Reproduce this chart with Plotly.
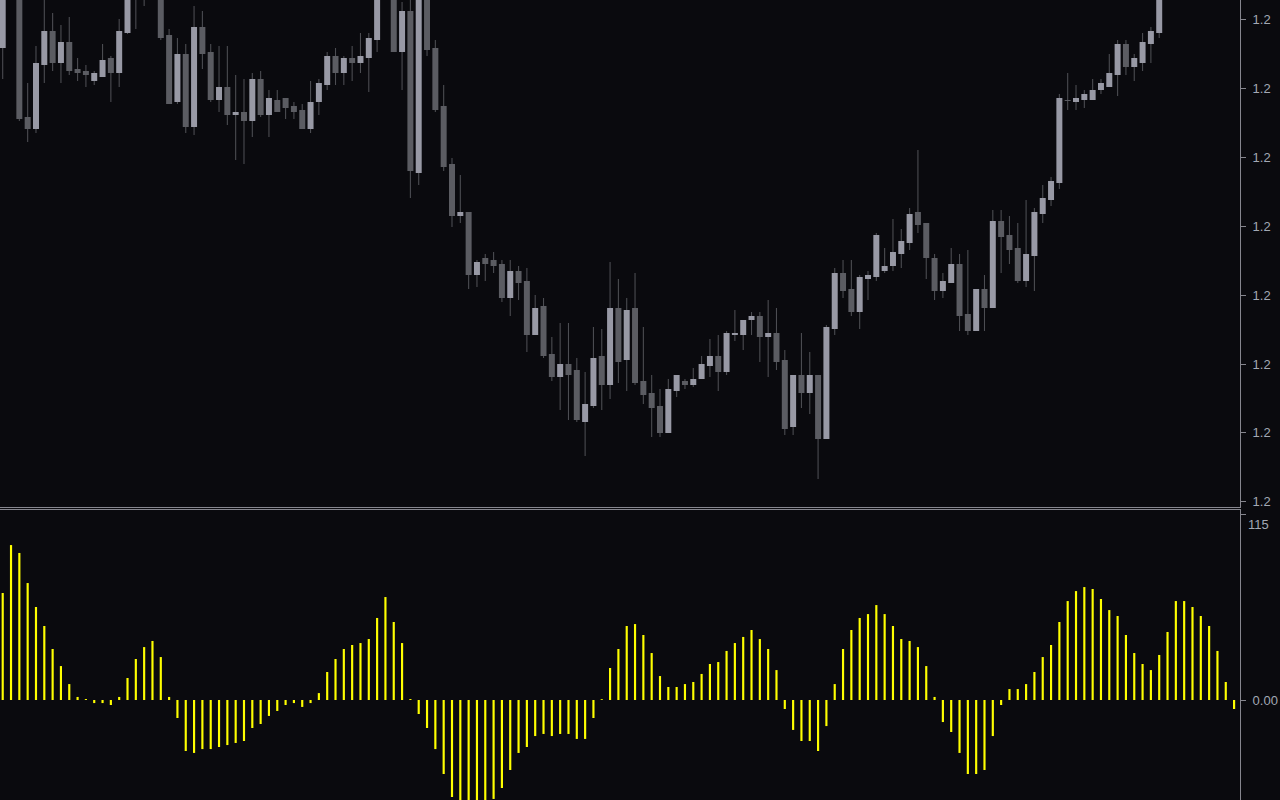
import plotly.graph_objects as go

# ---------------- data ----------------
bar_index = list(range(149))

open_ = [
    1.22952, 1.23020, 1.23005, 1.22883, 1.22871, 1.22935, 1.22969, 1.22937, 1.22958, 1.22931,
    1.22929, 1.22919, 1.22923, 1.22942, 1.22927, 1.22967, 1.23030, 1.23010, 1.23025, 1.23005,
    1.22965, 1.22898, 1.22946, 1.22873, 1.22973, 1.22948, 1.22900, 1.22913, 1.22885, 1.22888,
    1.22879, 1.22921, 1.22885, 1.22900, 1.22902, 1.22894, 1.22890, 1.22871, 1.22898, 1.22915,
    1.22944, 1.22927, 1.22942, 1.22937, 1.22942, 1.22960, 1.23008, 1.23005, 1.22948, 1.22989,
    1.22827, 1.23005, 1.22952, 1.22894, 1.22836, 1.22784, 1.22788, 1.22725, 1.22742, 1.22740,
    1.22736, 1.22702, 1.22729, 1.22719, 1.22665, 1.22694, 1.22646, 1.22623, 1.22636, 1.22630,
    1.22578, 1.22594, 1.22644, 1.22615, 1.22692, 1.22640, 1.22692, 1.22619, 1.22607, 1.22594,
    1.22567, 1.22609, 1.22619, 1.22615, 1.22621, 1.22634, 1.22644, 1.22628, 1.22665, 1.22665,
    1.22680, 1.22684, 1.22663, 1.22667, 1.22640, 1.22573, 1.22625, 1.22607, 1.22625, 1.22561,
    1.22671, 1.22727, 1.22711, 1.22688, 1.22721, 1.22723, 1.22729, 1.22734, 1.22746, 1.22757,
    1.22788, 1.22777, 1.22742, 1.22709, 1.22717, 1.22736, 1.22686, 1.22669, 1.22711, 1.22692,
    1.22779, 1.22765, 1.22752, 1.22719, 1.22744, 1.22786, 1.22800, 1.22817, 1.22900, 1.22898,
    1.22900, 1.22900, 1.22910, 1.22913, 1.22925, 1.22956, 1.22933, 1.22937, 1.22956, 1.22967,
    1.23010, 1.23040, 1.23065, 1.23080, 1.23072, 1.23090, 1.23085, 1.23098, 1.23092,
]

high = [
    1.23025, 1.23040, 1.23010, 1.22917, 1.22954, 1.23002, 1.22987, 1.22975, 1.22983, 1.22942,
    1.22935, 1.22929, 1.22956, 1.22944, 1.22981, 1.23020, 1.23040, 1.23040, 1.23045, 1.23015,
    1.22971, 1.22962, 1.22956, 1.22994, 1.22989, 1.22956, 1.22954, 1.22954, 1.22925, 1.22921,
    1.22927, 1.22929, 1.22910, 1.22910, 1.22902, 1.22898, 1.22896, 1.22919, 1.22921, 1.22948,
    1.22952, 1.22944, 1.22954, 1.22967, 1.22967, 1.23015, 1.23040, 1.23015, 1.22998, 1.23005,
    1.23010, 1.23010, 1.22960, 1.22915, 1.22842, 1.22825, 1.22788, 1.22740, 1.22746, 1.22748,
    1.22740, 1.22740, 1.22734, 1.22732, 1.22705, 1.22702, 1.22663, 1.22677, 1.22677, 1.22642,
    1.22628, 1.22673, 1.22671, 1.22738, 1.22721, 1.22702, 1.22727, 1.22673, 1.22625, 1.22611,
    1.22621, 1.22625, 1.22621, 1.22632, 1.22644, 1.22661, 1.22665, 1.22669, 1.22690, 1.22680,
    1.22688, 1.22688, 1.22700, 1.22692, 1.22650, 1.22625, 1.22667, 1.22648, 1.22625, 1.22675,
    1.22732, 1.22740, 1.22740, 1.22725, 1.22729, 1.22767, 1.22752, 1.22781, 1.22771, 1.22792,
    1.22850, 1.22777, 1.22746, 1.22727, 1.22752, 1.22746, 1.22750, 1.22711, 1.22725, 1.22790,
    1.22790, 1.22784, 1.22777, 1.22800, 1.22792, 1.22815, 1.22823, 1.22906, 1.22927, 1.22915,
    1.22910, 1.22921, 1.22921, 1.22946, 1.22960, 1.22960, 1.22946, 1.22967, 1.22973, 1.23020,
    1.23050, 1.23075, 1.23095, 1.23092, 1.23100, 1.23105, 1.23110, 1.23112, 1.23104,
]

low = [
    1.22921, 1.23003, 1.22879, 1.22858, 1.22867, 1.22917, 1.22929, 1.22917, 1.22925, 1.22919,
    1.22913, 1.22915, 1.22923, 1.22898, 1.22913, 1.22966, 1.22971, 1.22994, 1.23008, 1.22960,
    1.22896, 1.22896, 1.22867, 1.22865, 1.22931, 1.22898, 1.22888, 1.22875, 1.22840, 1.22836,
    1.22863, 1.22883, 1.22863, 1.22888, 1.22881, 1.22881, 1.22871, 1.22867, 1.22885, 1.22910,
    1.22915, 1.22915, 1.22919, 1.22927, 1.22908, 1.22948, 1.23003, 1.22948, 1.22910, 1.22802,
    1.22815, 1.22944, 1.22888, 1.22829, 1.22773, 1.22777, 1.22711, 1.22713, 1.22719, 1.22727,
    1.22698, 1.22684, 1.22700, 1.22648, 1.22665, 1.22642, 1.22619, 1.22590, 1.22580, 1.22578,
    1.22544, 1.22592, 1.22590, 1.22601, 1.22617, 1.22609, 1.22615, 1.22596, 1.22563, 1.22563,
    1.22567, 1.22603, 1.22611, 1.22613, 1.22621, 1.22623, 1.22609, 1.22625, 1.22659, 1.22650,
    1.22665, 1.22638, 1.22623, 1.22630, 1.22565, 1.22565, 1.22592, 1.22586, 1.22521, 1.22561,
    1.22665, 1.22702, 1.22684, 1.22671, 1.22700, 1.22719, 1.22727, 1.22729, 1.22732, 1.22750,
    1.22767, 1.22721, 1.22700, 1.22702, 1.22717, 1.22669, 1.22665, 1.22669, 1.22669, 1.22692,
    1.22727, 1.22736, 1.22717, 1.22713, 1.22709, 1.22777, 1.22794, 1.22811, 1.22890, 1.22890,
    1.22892, 1.22900, 1.22906, 1.22913, 1.22904, 1.22925, 1.22919, 1.22929, 1.22937, 1.22962,
    1.23005, 1.23032, 1.23055, 1.23060, 1.23065, 1.23075, 1.23078, 1.23085, 1.23080,
]

close = [
    1.23015, 1.23010, 1.22881, 1.22871, 1.22937, 1.22969, 1.22937, 1.22958, 1.22929, 1.22927,
    1.22925, 1.22927, 1.22940, 1.22927, 1.22969, 1.23010, 1.23005, 1.23025, 1.23015, 1.22962,
    1.22896, 1.22946, 1.22873, 1.22973, 1.22946, 1.22900, 1.22913, 1.22885, 1.22888, 1.22879,
    1.22921, 1.22885, 1.22902, 1.22888, 1.22892, 1.22888, 1.22871, 1.22898, 1.22917, 1.22944,
    1.22927, 1.22942, 1.22937, 1.22944, 1.22962, 1.23005, 1.23020, 1.22948, 1.22989, 1.22829,
    1.23005, 1.22950, 1.22890, 1.22833, 1.22784, 1.22788, 1.22725, 1.22738, 1.22736, 1.22734,
    1.22702, 1.22729, 1.22717, 1.22665, 1.22692, 1.22644, 1.22623, 1.22636, 1.22625, 1.22580,
    1.22596, 1.22642, 1.22615, 1.22692, 1.22638, 1.22690, 1.22617, 1.22605, 1.22592, 1.22567,
    1.22611, 1.22625, 1.22615, 1.22621, 1.22636, 1.22644, 1.22628, 1.22667, 1.22667, 1.22680,
    1.22684, 1.22663, 1.22667, 1.22638, 1.22571, 1.22625, 1.22607, 1.22625, 1.22561, 1.22673,
    1.22727, 1.22709, 1.22688, 1.22723, 1.22725, 1.22765, 1.22734, 1.22748, 1.22759, 1.22786,
    1.22775, 1.22742, 1.22709, 1.22719, 1.22736, 1.22684, 1.22669, 1.22711, 1.22692, 1.22779,
    1.22763, 1.22750, 1.22719, 1.22746, 1.22788, 1.22802, 1.22819, 1.22902, 1.22899, 1.22902,
    1.22906, 1.22910, 1.22917, 1.22927, 1.22956, 1.22933, 1.22942, 1.22958, 1.22969, 1.23010,
    1.23040, 1.23065, 1.23080, 1.23072, 1.23090, 1.23085, 1.23098, 1.23092, 1.23088,
]

histogram = [
    66.5, 96.3, 91.4, 72.7, 57.8, 46.0, 31.7, 21.1, 9.9, 1.9,
    0.6, -1.9, -1.9, -3.1, 1.9, 13.7, 25.5, 32.9, 36.7, 26.7,
    1.9, -11.2, -31.7, -32.9, -30.5, -30.5, -29.2, -28.0, -26.7, -25.5,
    -17.4, -14.9, -9.9, -6.8, -3.1, -1.9, -4.3, -1.9, 4.3, 17.4,
    25.5, 31.7, 34.2, 35.4, 37.9, 51.0, 64.0, 48.5, 35.4, 0.6,
    -8.7, -17.4, -30.5, -46.0, -60.3, -64.0, -66.0, -65.0, -63.0, -61.5,
    -54.7, -43.5, -32.9, -29.2, -22.4, -21.1, -22.4, -21.1, -21.1, -24.2,
    -24.2, -11.2, 0.5, 19.9, 31.7, 46.0, 47.2, 40.4, 29.2, 14.9,
    8.1, 8.1, 9.9, 11.2, 16.2, 22.4, 23.6, 30.5, 35.4, 39.2,
    43.5, 37.9, 31.7, 18.6, -5.6, -18.6, -25.5, -25.5, -31.7, -16.2,
    9.9, 31.7, 43.5, 51.0, 53.4, 59.0, 53.4, 46.0, 37.9, 36.7,
    32.9, 21.1, 1.9, -13.7, -19.9, -32.9, -46.0, -46.0, -43.5, -22.4,
    -3.1, 6.8, 6.8, 9.9, 17.4, 26.7, 34.2, 48.5, 61.5, 67.7,
    70.2, 69.0, 62.8, 55.9, 52.2, 40.4, 29.2, 22.4, 18.6, 28.0,
    42.3, 61.5, 61.5, 57.8, 52.2, 46.0, 30.5, 11.2, -5.6,
]

price_ticks = [1.22981, 1.22912, 1.22843, 1.22774, 1.22705, 1.22636, 1.22568, 1.22499]
price_tick_labels = ["1.2", "1.2", "1.2", "1.2", "1.2", "1.2", "1.2", "1.2"]
osc_ticks = [115, 0]
osc_tick_labels = ["", "0.00"]
osc_top_label = "115"

# ---------------- styles ----------------
BG = "#0a0a0e"
BULL = "#9899a5"
BEAR = "#5b5c62"
WICK = "#4c4d52"
FRAME = "#86868e"
TEXT = "#a2a8b4"
HIST = "#ffff00"
FONT = dict(family="Liberation Sans, Arial, sans-serif", size=13, color=TEXT)

body_lo = [min(o, c) for o, c in zip(open_, close)]
body_h = [max(abs(c - o), 0.00001) for o, c in zip(open_, close)]
body_col = [BULL if c >= o else BEAR for o, c in zip(open_, close)]
wick_h = [h - l for h, l in zip(high, low)]

fig = go.Figure()
fig.add_trace(go.Bar(x=bar_index, y=wick_h, base=low, width=0.13,
                     marker=dict(color=WICK, line=dict(width=0)),
                     xaxis="x", yaxis="y", hoverinfo="skip"))
fig.add_trace(go.Bar(x=bar_index, y=body_h, base=body_lo, width=0.72,
                     marker=dict(color=body_col, line=dict(width=0)),
                     xaxis="x", yaxis="y", hoverinfo="skip"))
fig.add_trace(go.Bar(x=bar_index, y=histogram, width=0.26,
                     marker=dict(color=HIST, line=dict(width=0)),
                     xaxis="x2", yaxis="y2", hoverinfo="skip"))

xr = [-0.325, 148.71]
common_x = dict(range=xr, showgrid=False, zeroline=False, showticklabels=False,
                ticks="", showline=True, linecolor=FRAME, linewidth=1,
                fixedrange=True, automargin=False)
common_y = dict(side="right", showgrid=False, zeroline=False, showline=True,
                linecolor=FRAME, linewidth=1, ticks="outside", ticklen=5,
                tickcolor=FRAME, tickwidth=1, tickfont=FONT, fixedrange=True,
                automargin=False, ticklabelstandoff=4)

fig.update_layout(
    template="none",
    width=1280, height=800,
    margin=dict(l=0, r=40, t=0, b=0),
    paper_bgcolor=BG, plot_bgcolor=BG,
    showlegend=False, barmode="overlay", hovermode=False,
    xaxis=dict(domain=[0, 1], anchor="y", **common_x),
    xaxis2=dict(domain=[0, 1], anchor="y2", side="top", matches="x", **common_x),
    yaxis=dict(domain=[0.36625, 1], anchor="x", range=[1.22493, 1.23000],
               tickmode="array", tickvals=price_ticks, ticktext=price_tick_labels,
               **common_y),
    yaxis2=dict(domain=[0, 0.3625], anchor="x2", range=[-62.15, 118.1],
                tickmode="array", tickvals=osc_ticks, ticktext=osc_tick_labels,
                **common_y),
    annotations=[dict(text=osc_top_label, xref="paper", yref="y2", x=1, y=osc_ticks[0],
                      xanchor="left", yanchor="middle", xshift=6, yshift=-10,
                      showarrow=False, font=FONT)],
)

fig.write_html("out.html", config={"displayModeBar": False, "staticPlot": True},
               post_script="document.body.style.margin='0';document.body.style.background='#0a0a0e';document.body.style.overflow='hidden';")
